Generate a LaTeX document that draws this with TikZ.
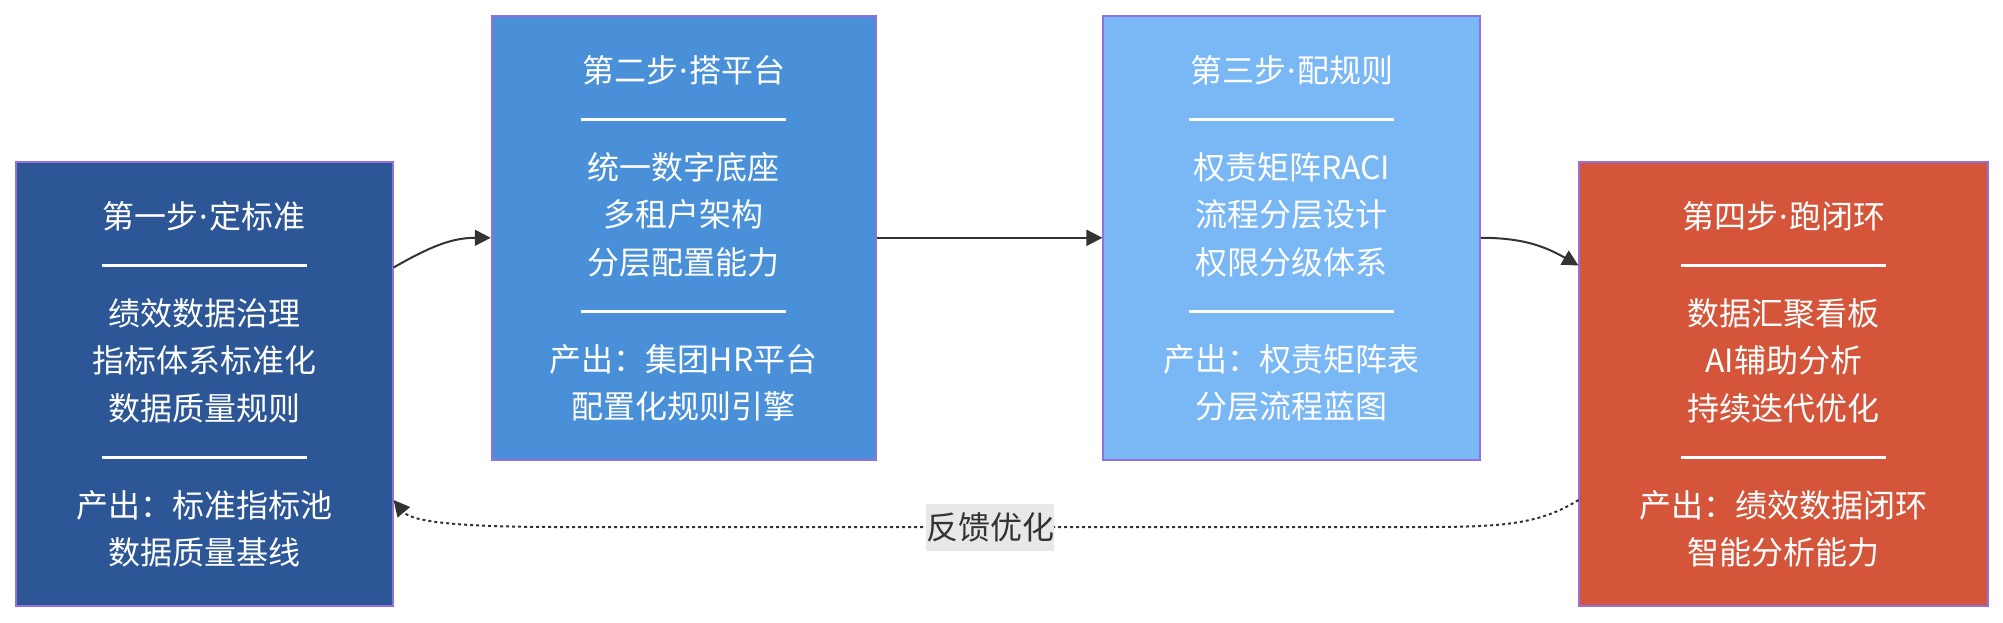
\documentclass[tikz,border=0pt]{standalone}
\usepackage{fontspec}
\setmainfont{Noto Sans CJK SC}
\newfontfamily\latinfont{Noto Sans}
\newcommand\mdot{{\latinfont\kern1pt·\kern1pt}}
\usetikzlibrary{arrows.meta,calc}
\definecolor{cone}{HTML}{2C5696}
\definecolor{ctwo}{HTML}{4A90D9}
\definecolor{cthree}{HTML}{7AB8F5}
\definecolor{cfour}{HTML}{D4553A}
\definecolor{bd}{HTML}{9370DB}
\definecolor{ink}{HTML}{333333}
\definecolor{lblbg}{HTML}{E8E8E8}
\newcommand\fillstep[4]{%
  \node[txt] (#1-t) at ($(#1.center)+(0,-167.5)$) {#2};
  \draw[sepline] ($(#1.center)+(-102.5,-118.5)$) -- ++(205,0);
  \foreach \s [count=\k] in {#3}
    \node[txt] (#1-i\k) at ($(#1.center)+(0,-118.5+47.5*\k)$) {\s};
  \draw[sepline] ($(#1.center)+(-102.5,73.5)$) -- ++(205,0);
  \foreach \s [count=\k] in {#4}
    \node[txt] (#1-o\k) at ($(#1.center)+(0,73.5+47.5*\k)$) {\s};
}
\begin{document}
\begin{tikzpicture}[x=1pt,y=-1pt,
  stepbox/.style={draw=bd,line width=1.8pt,inner sep=0pt,rectangle},
  txt/.style={text=white,font=\fontsize{32}{38}\selectfont,inner sep=0pt,
    text height=28.2pt,text depth=3.8pt,anchor=center},
  sepline/.style={draw=white,line width=3pt},
  edge/.style={draw=ink,line width=2pt,-{Triangle[length=16pt,width=16pt]}},
  fb/.style={edge,dash pattern=on 3pt off 3pt},
  lbl/.style={fill=lblbg,text=ink,font=\fontsize{32}{38}\selectfont,inner sep=0pt,
    text height=28.2pt,text depth=3.8pt,minimum width=128pt,minimum height=47pt}]
\useasboundingbox (0,0) rectangle (2003,622);

\node[stepbox,fill=cone,minimum width=377pt,minimum height=443.5pt] (b1) at (204.2,384) {};
\node[stepbox,fill=ctwo,minimum width=384.3pt,minimum height=444.3pt] (b2) at (683.8,237.8) {};
\node[stepbox,fill=cthree,minimum width=376.7pt,minimum height=444.3pt] (b3) at (1291.7,237.8) {};
\node[stepbox,fill=cfour,minimum width=408.7pt,minimum height=443.7pt] (b4) at (1783.7,384) {};

\fillstep{b1}{第一步\mdot 定标准}{绩效数据治理,指标体系标准化,数据质量规则}{产出：标准指标池,数据质量基线}
\fillstep{b2}{第二步\mdot 搭平台}{统一数字底座,多租户架构,分层配置能力}{产出：集团HR平台,配置化规则引擎}
\fillstep{b3}{第三步\mdot 配规则}{权责矩阵RACI,流程分层设计,权限分级体系}{产出：权责矩阵表,分层流程蓝图}
\fillstep{b4}{第四步\mdot 跑闭环}{数据汇聚看板,AI辅助分析,持续迭代优化}{产出：绩效数据闭环,智能分析能力}

\draw[edge] ([yshift=116.5pt]b1.east) .. controls +(35,-20) and +(-40,0) .. (b2.west);
\draw[edge] (b2.east) -- (b3.west);
\draw[edge] (b3.east) .. controls +(40,0) and +(-35,-20) .. ([yshift=118.5pt]b4.west);

\coordinate (fbR) at (1420,527);
\coordinate (fbL) at (560,527);
\draw[fb] ([yshift=-116pt]b4.west) .. controls +(-40,25) and +(80,0) .. (fbR)
  -- node[lbl] (fbl) {反馈优化} (fbL)
  .. controls +(-80,0) and +(20,24) .. ([yshift=-116pt]b1.east);
\end{tikzpicture}
\end{document}
